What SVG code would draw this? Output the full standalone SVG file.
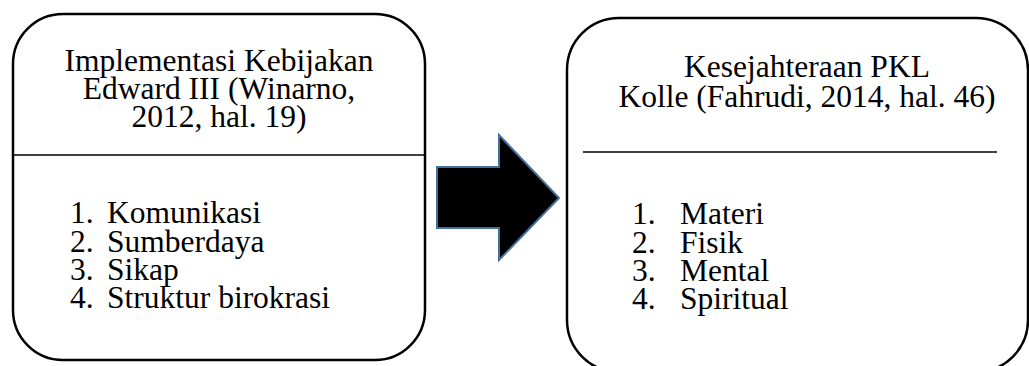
<svg xmlns="http://www.w3.org/2000/svg" width="1029" height="366" viewBox="0 0 1029 366">
  <style>
    .box { fill: #ffffff; stroke: #000000; stroke-width: 2.5; }
    .rule { stroke: #000000; stroke-width: 1.5; }
    .t { font-family: "Liberation Serif", "Times New Roman", serif; font-size: 31.5px; fill: #000000; }
    .c { text-anchor: middle; }
    .arrow { fill: #000000; stroke: #41719C; stroke-width: 2; stroke-linejoin: miter; }
  </style>

  <!-- left panel: policy implementation factors -->
  <g id="implementasi">
    <rect class="box" x="13" y="14" width="412" height="346" rx="50" ry="50"/>
    <text class="t c" x="219" y="71">Implementasi Kebijakan</text>
    <text class="t c" x="219" y="99">Edward III (Winarno,</text>
    <text class="t c" x="219" y="127">2012, hal. 19)</text>
    <line class="rule" x1="14" y1="155" x2="424" y2="155"/>
    <text class="t" x="70" y="223">1.</text><text class="t" x="107" y="223">Komunikasi</text>
    <text class="t" x="70" y="252">2.</text><text class="t" x="107" y="252">Sumberdaya</text>
    <text class="t" x="70" y="280">3.</text><text class="t" x="107" y="280">Sikap</text>
    <text class="t" x="70" y="308">4.</text><text class="t" x="107" y="308">Struktur birokrasi</text>
  </g>

  <!-- block arrow between the panels -->
  <g id="connectors">
    <polygon class="arrow" points="437,167 499,167 499,135 559,198 499,260 499,228 437,228"/>
  </g>

  <!-- right panel: welfare dimensions -->
  <g id="kesejahteraan">
    <rect class="box" x="567" y="18" width="461" height="354" rx="52" ry="52"/>
    <text class="t c" x="807" y="77">Kesejahteraan PKL</text>
    <text class="t c" x="807" y="107">Kolle (Fahrudi, 2014, hal. 46)</text>
    <line class="rule" x1="583" y1="152" x2="997" y2="152"/>
    <text class="t" x="632" y="224">1.</text><text class="t" x="680" y="224">Materi</text>
    <text class="t" x="632" y="253">2.</text><text class="t" x="680" y="253">Fisik</text>
    <text class="t" x="632" y="281">3.</text><text class="t" x="680" y="281">Mental</text>
    <text class="t" x="632" y="309">4.</text><text class="t" x="680" y="309">Spiritual</text>
  </g>
</svg>
